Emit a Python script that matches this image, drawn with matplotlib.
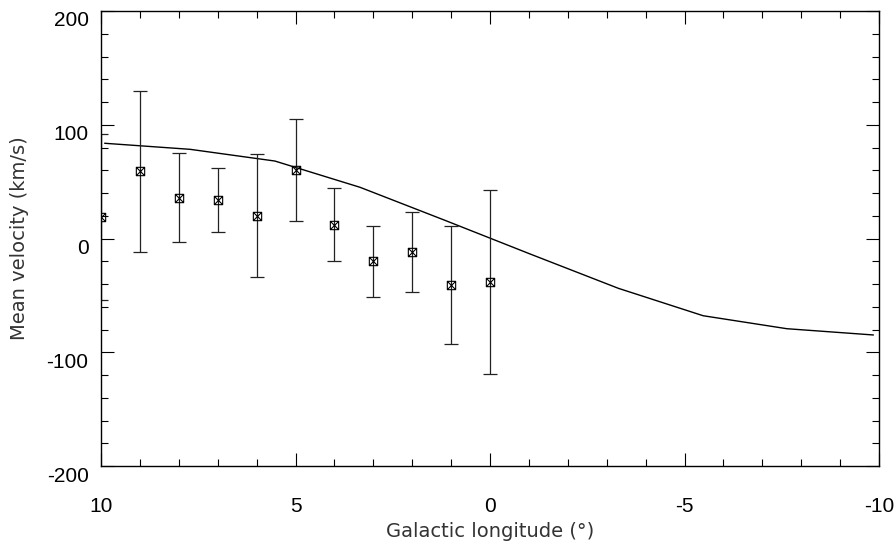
import matplotlib.pyplot as plt
import matplotlib.transforms as mtransforms
from matplotlib.path import Path
from matplotlib.ticker import MultipleLocator

plt.rcParams["axes.unicode_minus"] = False

# measured points (longitude in deg, mean velocity and error in km/s)
lon = [10, 9, 8, 7, 6, 5, 4, 3, 2, 1, 0]
vel = [19, 59, 36, 34, 20, 60, 12, -20, -12, -41, -38]
err = [73, 71, 39, 28, 54, 45, 32, 31, 35, 52, 81]

# model curve
model_lon = [9.9, 7.71, 5.53, 3.34, 1.16, -1.03, -3.3, -5.48, -7.63, -9.85]
model_vel = [83.7, 78.4, 68.1, 45.0, 16.0, -13.6, -43.8, -67.9, -79.3, -84.8]

# square with a cross inside
box_x = Path(
    [(-1, -1), (1, -1), (1, 1), (-1, 1), (-1, -1), (1, 1), (-1, 1), (1, -1)],
    [Path.MOVETO, Path.LINETO, Path.LINETO, Path.LINETO, Path.LINETO,
     Path.LINETO, Path.MOVETO, Path.LINETO],
)

fig = plt.figure(figsize=(8.96, 5.46), dpi=100)
ax = fig.add_axes([101 / 896, 80 / 546, 778 / 896, 455 / 546])

ax.plot(model_lon, model_vel, color="black", lw=1.0)
ax.errorbar(lon, vel, yerr=err, fmt="none", ecolor="#222222", elinewidth=0.9,
            capsize=5, capthick=0.9)
ax.plot(lon, vel, linestyle="none", marker=box_x, markersize=6,
        markerfacecolor="none", markeredgecolor="black", markeredgewidth=0.8)

ax.set_xlim(10, -10)
ax.set_ylim(-200, 200)
ax.xaxis.set_major_locator(MultipleLocator(5))
ax.xaxis.set_minor_locator(MultipleLocator(1))
ax.yaxis.set_major_locator(MultipleLocator(100))
ax.yaxis.set_minor_locator(MultipleLocator(20))
ax.tick_params(which="both", direction="in", top=True, right=True, width=0.8,
               labelsize=15)
ax.tick_params(which="major", length=9.5)
ax.tick_params(which="minor", length=5)
ax.tick_params(axis="x", pad=22)
ax.tick_params(axis="y", pad=9)
for sp in ax.spines.values():
    sp.set_linewidth(1.0)

for lab in ax.get_xticklabels() + ax.get_yticklabels():
    lab.set_fontfamily("Liberation Sans")
shift = mtransforms.ScaledTranslation(0, -0.08, fig.dpi_scale_trans)
for lab in ax.get_yticklabels():
    lab.set_transform(lab.get_transform() + shift)

ax.set_xlabel("Galactic longitude (°)", fontsize=14, family="DejaVu Sans",
              color="#333333")
ax.set_ylabel("Mean velocity (km/s)", fontsize=14, family="DejaVu Sans",
              color="#333333")
ax.xaxis.set_label_coords(0.5, -0.122)
ax.yaxis.set_label_coords(-0.092, 0.5)

fig.savefig("out.png", dpi=100)
